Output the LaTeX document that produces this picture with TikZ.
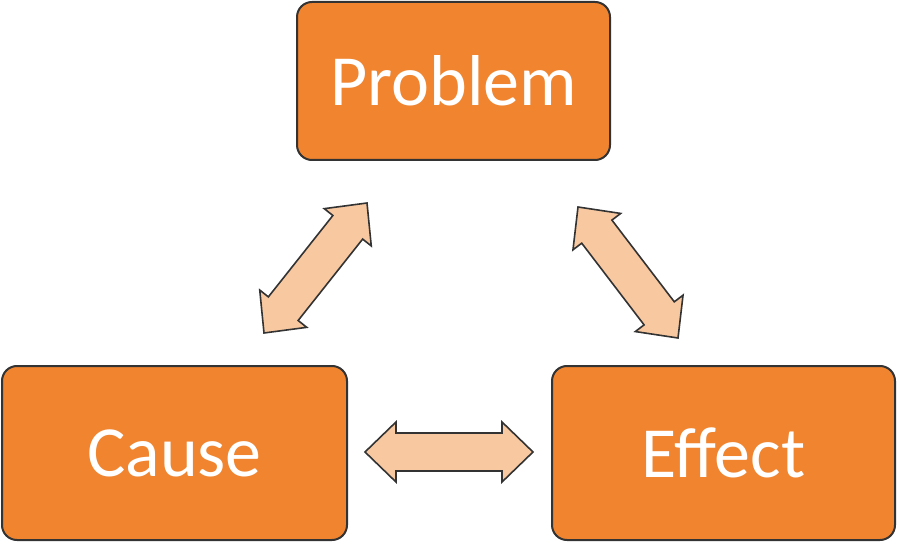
\documentclass[tikz,border=0pt]{standalone}
\usepackage{fontspec}
\setmainfont{Carlito}
\usetikzlibrary{calc}
\definecolor{boxorange}{HTML}{F0842F}
\definecolor{arrowpeach}{HTML}{F8C8A0}
\definecolor{outline}{HTML}{333333}
\tikzset{
  stepbox/.style={draw=outline, line width=2pt, fill=boxorange, rounded corners=15pt,
    text=white, font=\fontsize{72}{82}\selectfont, inner sep=0pt},
  blockarrow/.style={draw=outline, line width=1.6pt, fill=arrowpeach, line join=miter}
}
\newcommand{\barrow}[2]{%
  \path ($(#1)!31pt!(#2)$) coordinate (ba1) ($(#2)!31pt!(#1)$) coordinate (ba2);
  \draw[blockarrow] (#1) -- ($(ba1)!30pt!90:(#2)$) -- ($(ba1)!19pt!90:(#2)$)
    -- ($(ba2)!19pt!-90:(#1)$) -- ($(ba2)!30pt!-90:(#1)$) -- (#2)
    -- ($(ba2)!30pt!90:(#1)$) -- ($(ba2)!19pt!90:(#1)$)
    -- ($(ba1)!19pt!-90:(#2)$) -- ($(ba1)!30pt!-90:(#2)$) -- cycle;}
\begin{document}
\begin{tikzpicture}[x=1pt,y=1pt]
\useasboundingbox (0,0) rectangle (899,544);
\node[stepbox, minimum width=313pt, minimum height=158pt] (problem) at (453.5,463) {Problem};
\node[stepbox, minimum width=345pt, minimum height=174pt] (cause) at (174.5,91) {Cause};
\node[stepbox, minimum width=343pt, minimum height=174pt] (effect) at (723.5,91) {Effect};
% arrow end points
\coordinate (lc) at (264,211);
\coordinate (lp) at (367,341);
\coordinate (rp) at (578,337);
\coordinate (re) at (678,206);
\coordinate (hc) at (365,92);
\coordinate (he) at (533,92);
\barrow{lc}{lp}
\barrow{rp}{re}
\barrow{hc}{he}
\end{tikzpicture}
\end{document}
